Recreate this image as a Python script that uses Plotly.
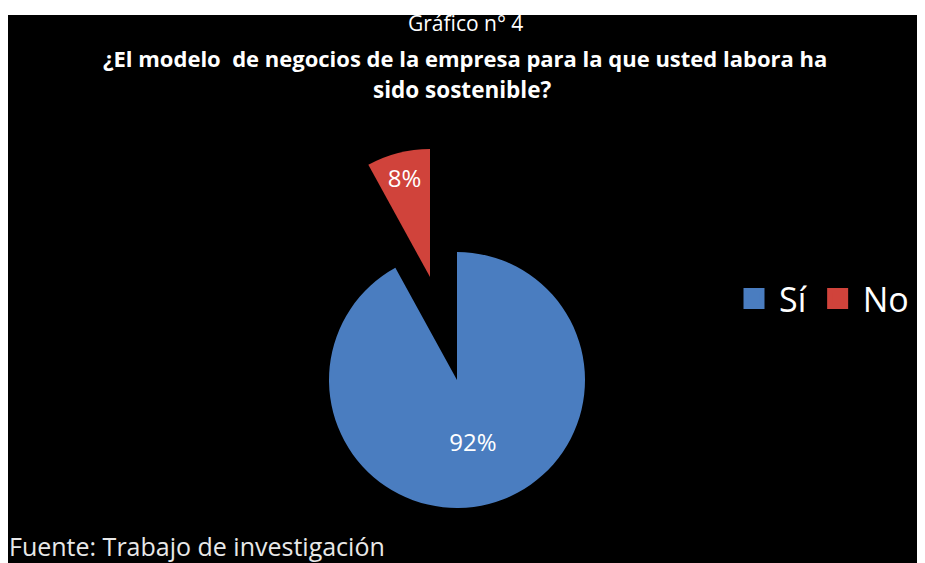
import plotly.graph_objects as go

# ---- data ----
labels = ["Sí", "No"]
values = [92, 8]
colors = ["#4A7DC0", "#D0433B"]

title_line1 = "Gráfico n° 4"
title_line2 = "¿El modelo  de negocios de la empresa para la que usted labora ha"
title_line3 = "sido sostenible?"
source_text = "Fuente: Trabajo de investigación"

W, H = 925, 563
OFF = 8  # page body offset
TRANSP = "rgba(0,0,0,0)"
FONT = "Open Sans"
R = 128


def dom(cx, cy):
    cx -= OFF
    cy -= OFF
    return dict(x=[(cx - R) / W, (cx + R) / W], y=[(H - cy - R) / H, (H - cy + R) / H])


def px(x):
    return (x - OFF) / W


def py(y):
    return 1 - (y - OFF) / H


fig = go.Figure()

# main pie (Sí visible)
fig.add_trace(go.Pie(
    labels=labels, values=values, sort=False, direction="clockwise", rotation=0,
    marker=dict(colors=[colors[0], TRANSP], line=dict(width=0)),
    texttemplate=["%{percent:.0%}", ""],
    textposition="inside", insidetextorientation="horizontal",
    textfont=dict(family=FONT, size=24, color="white"),
    domain=dom(457, 380),
    showlegend=False, hoverinfo="label+percent",
))

# exploded slice (No visible)
fig.add_trace(go.Pie(
    labels=labels, values=values, sort=False, direction="clockwise", rotation=0,
    marker=dict(colors=[TRANSP, colors[1]], line=dict(width=0)),
    texttemplate=["", "%{percent:.0%}"],
    textposition="inside", insidetextorientation="horizontal",
    textfont=dict(family=FONT, size=24, color="white"),
    domain=dom(430, 277),
    showlegend=False, hoverinfo="label+percent",
))

# legend entries
for lab, col in zip(labels, colors):
    fig.add_trace(go.Scatter(
        x=[None], y=[None], mode="markers", name=lab,
        marker=dict(symbol="square", size=16, color=col, line=dict(width=5, color=col)),
        showlegend=True,
    ))

fig.update_layout(
    width=W, height=H,
    margin=dict(l=0, r=0, t=0, b=0),
    paper_bgcolor="white", plot_bgcolor="rgba(0,0,0,0)",
    xaxis=dict(visible=False), yaxis=dict(visible=False),
    uniformtext=dict(mode="show", minsize=24),
    legend=dict(orientation="h", x=px(729), xanchor="left", y=py(299), yanchor="middle",
                font=dict(family=FONT, size=34, color="white"), itemwidth=40,
                bgcolor="rgba(0,0,0,0)", itemsizing="trace"),
    shapes=[dict(type="rect", xref="paper", yref="paper", x0=-0.01, x1=1.01, y0=-0.01, y1=py(15),
                 fillcolor="black", line=dict(width=0), layer="below")],
    annotations=[
        dict(text=title_line1, x=px(465), y=py(23), xref="paper", yref="paper", showarrow=False,
             font=dict(family=FONT, size=21, color="white"), xanchor="center", yanchor="middle"),
        dict(text="<b>" + title_line2 + "</b>", x=px(465), y=py(58), xref="paper", yref="paper",
             showarrow=False, font=dict(family=FONT, size=22, color="white"),
             xanchor="center", yanchor="middle"),
        dict(text="<b>" + title_line3 + "</b>", x=px(462), y=py(89), xref="paper", yref="paper",
             showarrow=False, font=dict(family=FONT, size=22.5, color="white"),
             xanchor="center", yanchor="middle"),
        dict(text=source_text, x=px(7), y=py(546), xref="paper", yref="paper", showarrow=False,
             font=dict(family=FONT, size=25, color="#E8E8E8"), xanchor="left", yanchor="middle"),
    ],
)

fig.write_html("out.html")
